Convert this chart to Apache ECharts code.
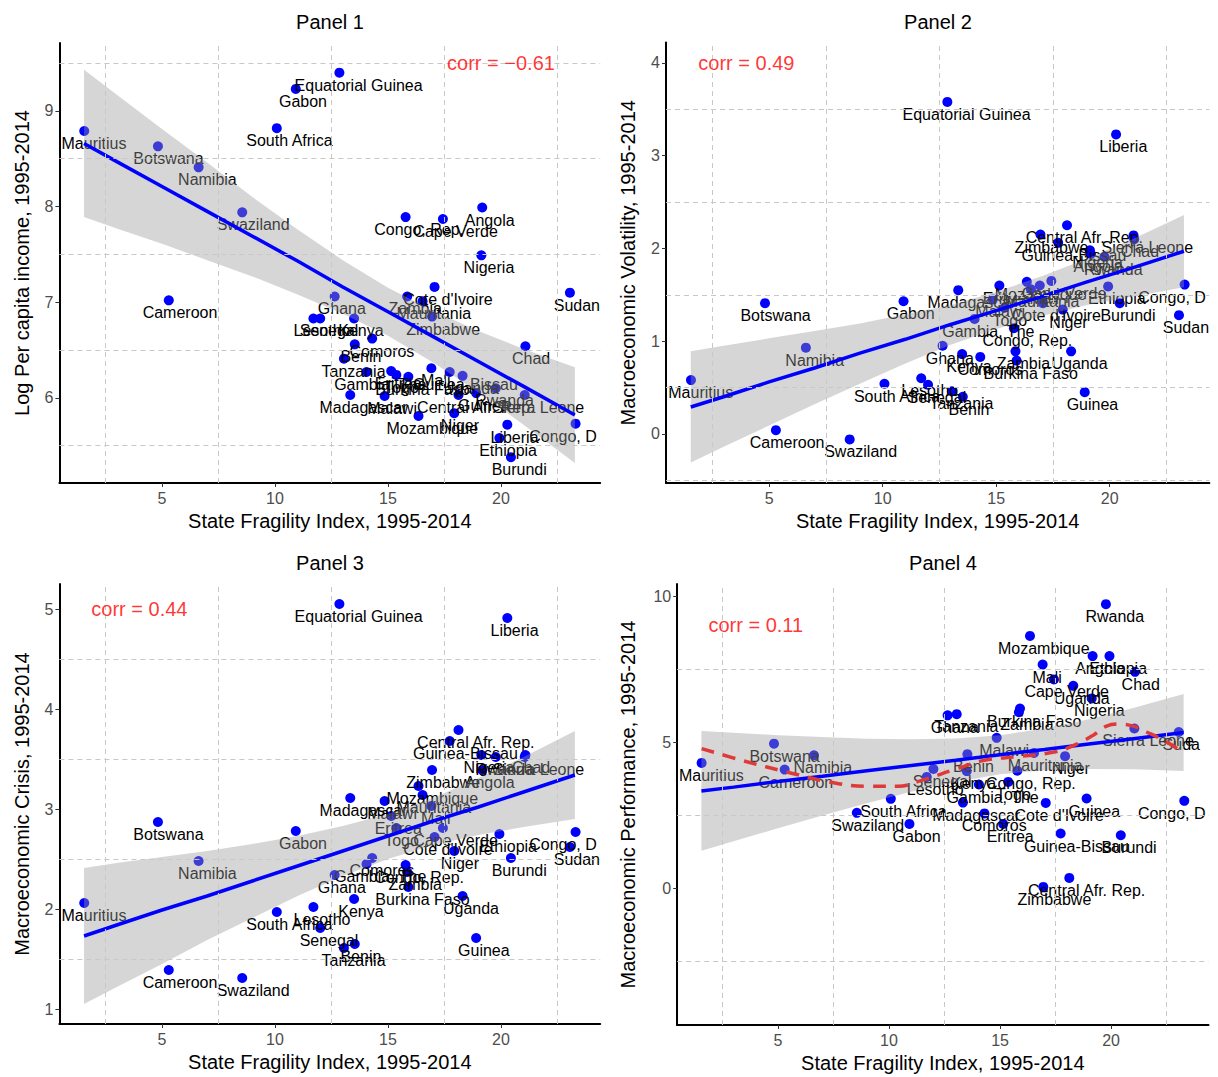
<!DOCTYPE html>
<html><head><meta charset="utf-8">
<script src="https://cdn.jsdelivr.net/npm/echarts@6/dist/echarts.min.js"></script>
<style>html,body{margin:0;padding:0;background:#fff}#c{width:1218px;height:1077px}</style>
</head><body><div id="c"></div>
<script>
// ---------- data ----------
const countries = ["Mauritius","Botswana","Cameroon","Namibia","Swaziland","South Africa","Gabon","Lesotho","Senegal","Ghana","Equatorial Guinea","Tanzania","Madagascar","Kenya","Benin","Gambia, The","Comoros","Malawi","Eritrea","Togo","Congo, Rep.","Burkina Faso","Zambia","Mozambique","Mauritania","Mali","Zimbabwe","Cote d'Ivoire","Cape Verde","Guinea-Bissau","Niger","Central Afr. Rep.","Uganda","Guinea","Nigeria","Angola","Rwanda","Ethiopia","Liberia","Burundi","Sierra Leone","Chad","Sudan","Congo, Dem. Rep."];
const sfi = [1.56,4.82,5.3,6.62,8.55,10.08,10.92,11.7,12.0,12.64,12.85,13.05,13.33,13.5,13.53,14.05,14.3,14.85,15.14,15.37,15.78,15.9,15.85,16.35,16.53,16.92,16.95,17.06,17.43,17.73,17.93,18.12,18.3,18.9,19.13,19.17,19.77,19.93,20.28,20.44,21.05,21.08,23.05,23.3];
const logIncome = [8.79,8.63,7.02,8.41,7.94,8.82,9.23,6.83,6.83,7.06,9.40,6.41,6.03,6.83,6.56,6.27,6.62,6.02,6.28,6.24,7.89,6.22,7.06,5.81,7.01,6.31,6.85,7.16,7.87,6.27,5.84,6.03,6.23,6.05,7.49,7.99,6.10,5.58,5.72,5.38,6.03,6.54,7.10,5.73];
const volatility = [0.58,1.41,0.04,0.93,-0.06,0.54,1.43,0.60,0.53,0.95,3.58,0.46,1.55,0.86,0.40,1.24,0.83,1.45,1.60,1.36,1.14,0.79,0.89,1.64,1.56,1.60,2.15,1.41,1.65,2.06,1.34,2.25,0.89,0.45,1.98,1.94,1.91,1.59,3.23,1.41,2.14,2.10,1.28,1.61];
const crisis = [2.06,2.87,1.39,2.48,1.31,1.97,2.78,2.02,1.81,2.34,5.05,1.61,3.11,2.10,1.65,2.45,2.51,3.08,2.93,2.81,2.44,2.22,2.37,3.23,3.14,3.03,3.39,2.72,2.81,3.68,2.58,3.79,2.13,1.71,3.54,3.39,3.52,2.75,4.91,2.51,3.52,3.54,2.62,2.77];
const performance = [4.29,4.95,4.06,4.55,2.58,3.06,2.20,3.81,4.08,5.92,null,5.96,2.93,4.01,4.59,3.55,2.56,5.15,2.20,3.64,4.02,6.15,6.03,8.64,4.63,7.66,0.04,2.92,7.15,1.87,4.52,0.35,6.93,3.07,6.50,7.95,9.73,7.95,null,1.81,5.47,7.41,5.35,2.99];

// fitted line and confidence band (read at these x positions)
const bandX = [1.55,3,5,7,9,11,13,15,17,19,21,23.27];
const fit1 = [8.66,8.47,8.21,7.95,7.69,7.43,7.16,6.90,6.64,6.38,6.12,5.82];
const hi1  = [9.43,9.17,8.81,8.46,8.10,7.76,7.44,7.15,6.91,6.70,6.51,6.32];
const lo1  = [7.89,7.77,7.61,7.44,7.27,7.08,6.88,6.65,6.37,6.06,5.72,5.32];
const fit2 = [0.29,0.40,0.56,0.71,0.87,1.02,1.18,1.33,1.48,1.64,1.79,1.97];
const hi2  = [0.89,0.95,1.03,1.11,1.19,1.29,1.39,1.53,1.70,1.89,2.10,2.36];
const lo2  = [-0.31,-0.14,0.09,0.32,0.54,0.76,0.96,1.13,1.27,1.39,1.48,1.58];
const fit3 = [1.73,1.84,1.99,2.13,2.28,2.43,2.58,2.73,2.88,3.02,3.17,3.34];
const hi3  = [2.41,2.46,2.52,2.58,2.65,2.73,2.83,2.95,3.11,3.31,3.52,3.78];
const lo3  = [1.05,1.22,1.45,1.69,1.91,2.13,2.33,2.50,2.64,2.74,2.82,2.90];
const fit4 = [3.33,3.46,3.65,3.83,4.02,4.20,4.38,4.57,4.75,4.94,5.12,5.33];
const hi4  = [5.38,5.32,5.24,5.18,5.12,5.10,5.13,5.24,5.47,5.79,6.17,6.65];
const lo4  = [1.28,1.61,2.05,2.49,2.91,3.30,3.64,3.90,4.04,4.08,4.07,4.01];
// loess curve of panel 4
const loessX = [1.56,3.6,5.4,7.3,9.0,10.4,11.5,12.9,14.3,15.75,17.5,18.5,19.2,19.8,20.4,21.0,21.6,22.5,23.3];
const loessY = [4.78,4.33,3.98,3.64,3.49,3.49,3.70,4.05,4.38,4.50,4.67,4.95,5.24,5.55,5.62,5.55,5.35,5.01,4.62];

// tick labels and grid-line values
const xTicks = [5,10,15,20];
const yTicks = [[6,7,8,9],[0,1,2,3,4],[1,2,3,4,5],[0,5,10]];
const gridLinesX = [2.5,7.5,12.5,17.5,22.5];
const gridLinesY = [[5.5,6.5,7.5,8.5,9.5],[-0.5,0.5,1.5,2.5,3.5],[1.5,2.5,3.5,4.5],[-2.5,2.5,7.5]];

const panelTitles = ["Panel 1","Panel 2","Panel 3","Panel 4"];
const xTitle = "State Fragility Index, 1995-2014";
const yTitles = ["Log Per capita income, 1995-2014","Macroeconomic Volatility, 1995-2014","Macroeconomic Crisis, 1995-2014","Macroeconomic Performance, 1995-2014"];
const corrText = ["corr = \u22120.61","corr = 0.49","corr = 0.44","corr = 0.11"];
const corrAt = [[20,9.5],[4,4],[4,5],[4,9]];

// ---------- layout ----------
const FONT = "'Liberation Sans', Arial, Helvetica, sans-serif";
const G = [
  {left:59.4, top:43, width:540.8, height:440},
  {left:666, top:42.6, width:543.4, height:440.4},
  {left:59.4, top:584, width:540.8, height:440},
  {left:677.2, top:584, width:531.3, height:441}
];
const xRange = [0.46, 24.39];
const yRanges = [[5.11,9.71],[-0.53,4.22],[0.85,5.25],[-4.69,10.42]];
const yNameGap = [27, 28, 27, 39];
const yValues = [logIncome, volatility, crisis, performance];
const fits = [fit1,fit2,fit3,fit4], his=[hi1,hi2,hi3,hi4], los=[lo1,lo2,lo3,lo4];

const xAxes = [], yAxes = [], series = [];
for (let i = 0; i < 4; i++) {
  xAxes.push({
    type:'value', gridIndex:i, min:xRange[0], max:xRange[1],
    name:xTitle, nameLocation:'middle', nameGap:28,
    nameTextStyle:{fontSize:20, color:'#000', fontFamily:FONT},
    axisLine:{show:true, onZero:false, lineStyle:{color:'#000', width:2}},
    axisTick:{show:true, length:4, customValues:xTicks, lineStyle:{color:'#333', width:1}},
    axisLabel:{customValues:xTicks, fontSize:16, color:'#4D4D4D', margin:7, fontFamily:FONT},
    splitLine:{show:false}
  });
  yAxes.push({
    type:'value', gridIndex:i, min:yRanges[i][0], max:yRanges[i][1],
    name:yTitles[i], nameLocation:'middle', nameGap:yNameGap[i],
    nameTextStyle:{fontSize:20, color:'#000', fontFamily:FONT},
    axisLine:{show:true, onZero:false, lineStyle:{color:'#000', width:2}},
    axisTick:{show:true, length:4, customValues:yTicks[i], lineStyle:{color:'#333', width:1}},
    axisLabel:{customValues:yTicks[i], fontSize:16, color:'#4D4D4D', margin:6, fontFamily:FONT},
    splitLine:{show:false}
  });
  // dashed grid lines
  series.push({
    type:'line', xAxisIndex:i, yAxisIndex:i, data:[], z:1, silent:true,
    markLine:{silent:true, symbol:['none','none'], label:{show:false}, animation:false,
      lineStyle:{type:[5,4], color:'#C8C8C8', width:1},
      emphasis:{disabled:true},
      data: gridLinesX.map(v=>({xAxis:v})).concat(gridLinesY[i].map(v=>({yAxis:v})))}
  });
  // points with labels
  const yv = yValues[i];
  const pts = [];
  countries.forEach((c,k)=>{ if (yv[k] != null) pts.push({name:c, value:[sfi[k], yv[k]]}); });
  const gi = i;
  series.push({
    type:'scatter', xAxisIndex:i, yAxisIndex:i, z:2, silent:true,
    symbol:'circle', symbolSize:10, itemStyle:{color:'#0000FF', opacity:1},
    label:{show:true, formatter:'{b}', position:'inside', color:'#000', fontSize:16, fontFamily:FONT,
      overflow:'truncate', ellipsis:''},
    labelLayout:function(p){
      const w = p.labelRect.width;
      const cx = p.rect.x + p.rect.width/2, cy = p.rect.y + p.rect.height/2;
      const left = cx - 0.35*w;
      const right = G[gi].left + G[gi].width;
      const out = {x:left, y:cy+12.5, align:'left', verticalAlign:'middle'};
      if (left + w > right) out.width = Math.max(1, right - left);
      return out;
    },
    data:pts
  });
  // confidence band
  const bx = bandX, hi = his[i], lo = los[i];
  series.push({
    type:'custom', xAxisIndex:i, yAxisIndex:i, z:3, silent:true,
    data: bx.map((x,k)=>[x, lo[k], hi[k]]),
    encode:{x:0, y:[1,2]},
    renderItem:function(params, api){
      if (params.dataIndex !== 0) return null;
      const poly = [];
      for (let k=0;k<bx.length;k++) poly.push(api.coord([bx[k], hi[k]]));
      for (let k=bx.length-1;k>=0;k--) poly.push(api.coord([bx[k], lo[k]]));
      return {type:'polygon', shape:{points:poly}, style:{fill:'rgba(153,153,153,0.4)'}};
    }
  });
  // fitted line
  series.push({
    type:'line', xAxisIndex:i, yAxisIndex:i, z:4, silent:true, showSymbol:false, symbol:'none',
    lineStyle:{color:'#0000FF', width:3.5},
    data: bx.map((x,k)=>[x, fits[i][k]])
  });
  if (i === 3) {
    series.push({
      type:'line', xAxisIndex:i, yAxisIndex:i, z:5, silent:true, showSymbol:false, symbol:'none',
      smooth:0.4, lineStyle:{color:'#DF3A3A', width:3.5, type:[13,9]},
      data: loessX.map((x,k)=>[x, loessY[k]])
    });
  }
  // corr annotation
  series.push({
    type:'scatter', xAxisIndex:i, yAxisIndex:i, z:6, silent:true,
    symbolSize:1, itemStyle:{color:'rgba(0,0,0,0)'},
    label:{show:true, position:'inside', formatter:corrText[i], color:'#FF0000', fontSize:20, fontFamily:FONT},
    data:[{value:corrAt[i]}]
  });
}

const titlePos = [[330,22],[938,22],[330,563],[943,563]];
const graphic = panelTitles.map((t,i)=>({
  type:'text', x:titlePos[i][0], y:titlePos[i][1], silent:true,
  style:{text:t, fontSize:20, fontFamily:FONT, fill:'#000', align:'center', verticalAlign:'middle'}
}));

const chart = echarts.init(document.getElementById('c'), null, {renderer:'svg', width:1218, height:1077});
chart.setOption({
  animation:false,
  backgroundColor:'#FFFFFF',
  textStyle:{fontFamily:FONT},
  grid:G.map(g=>Object.assign({containLabel:false}, g)),
  xAxis:xAxes, yAxis:yAxes, series:series, graphic:graphic
});
</script></body></html>
